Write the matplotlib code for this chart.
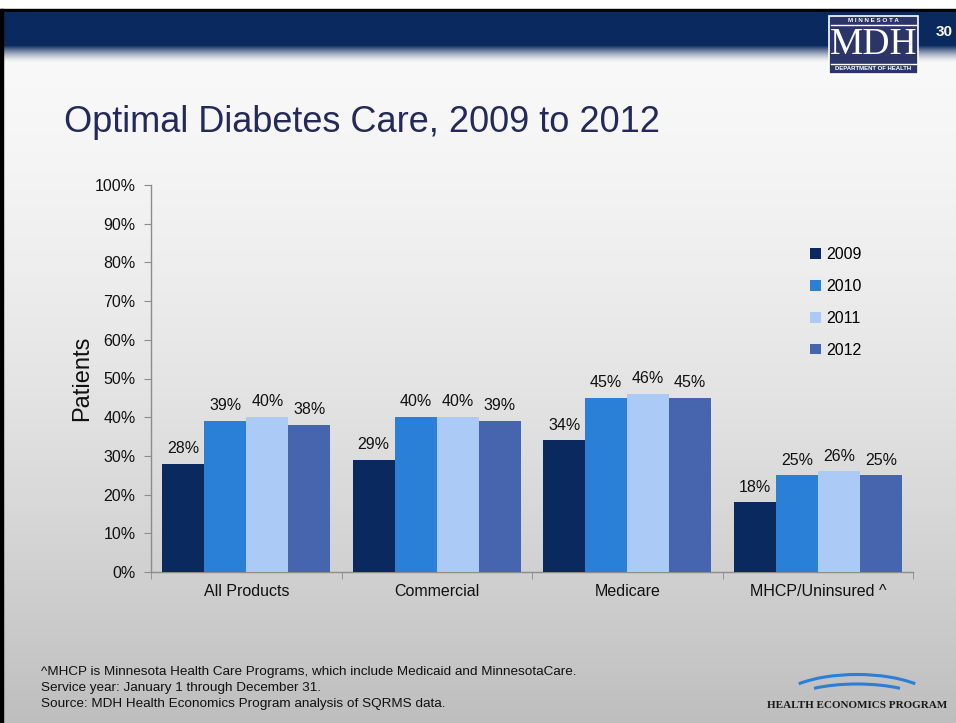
import matplotlib
matplotlib.use("Agg")
import matplotlib.pyplot as plt
import numpy as np
from matplotlib.patches import Rectangle, Arc, Patch

plt.rcParams['font.family'] = ['Liberation Sans', 'DejaVu Sans']

# =========================
# Dados
# =========================
categories = ["All Products", "Commercial", "Medicare", "MHCP/Uninsured ^"]
years = ["2009", "2010", "2011", "2012"]
v2009 = [28, 29, 34, 18]
v2010 = [39, 40, 45, 25]
v2011 = [40, 40, 46, 26]
v2012 = [38, 39, 45, 25]
yticks = list(range(0, 101, 10))

series = [v2009, v2010, v2011, v2012]
colors = ["#0a2a5f", "#2a7fd7", "#abcaf6", "#4765ae"]

W, H = 956, 723
fig = plt.figure(figsize=(W / 100, H / 100), dpi=100)

# =========================
# Fundo do slide
# =========================
bg = fig.add_axes([0, 0, 1, 1])
bg.set_xlim(0, W)
bg.set_ylim(H, 0)
bg.axis("off")

rows = np.linspace(0, 1, H)
shade = 250 - 60 * rows ** 1.6
grad = np.repeat(shade[:, None], 4, axis=1) / 255.0
bg.imshow(np.dstack([grad, grad, grad]), extent=(0, W, H, 0), aspect="auto", zorder=0)

# faixa do topo
bg.add_patch(Rectangle((0, 0), W, 9, color="white", zorder=1))
bg.add_patch(Rectangle((0, 9), W, 3, color="black", zorder=2))
bg.add_patch(Rectangle((0, 12), W, 34, color="#0a2a5f", zorder=2))
navy = np.array([10, 42, 95]) / 255.0
fade_h = 16
for k in range(fade_h):
    t = (k + 1) / (fade_h + 1)
    c = navy * (1 - t) ** 1.5 + np.array([0.97, 0.97, 0.97]) * (1 - (1 - t) ** 1.5)
    bg.add_patch(Rectangle((0, 46 + k), W, 1.05, color=c, zorder=2, lw=0))
bg.add_patch(Rectangle((0, 9), 3, H - 9, color="black", zorder=3))

# logo MDH
bg.add_patch(Rectangle((829, 16), 89, 58, facecolor="#2c3568", edgecolor="white", lw=1.2, zorder=4))
bg.plot([831, 916], [25, 25], color="white", lw=1, zorder=5)
bg.plot([831, 916], [64, 64], color="white", lw=1, zorder=5)
bg.text(873.5, 20.5, "M I N N E S O T A", color="white", fontsize=4.5, fontweight="bold",
        ha="center", va="center", zorder=6)
bg.text(873.5, 45, "MDH", color="white", fontsize=27, family="Liberation Serif",
        ha="center", va="center", zorder=6)
bg.text(873.5, 69, "DEPARTMENT OF HEALTH", color="white", fontsize=4.3, fontweight="bold",
        ha="center", va="center", zorder=6)
bg.text(936, 32, "30", color="white", fontsize=11, fontweight="bold",
        ha="left", va="center", zorder=6)

# logo Health Economics Program (eixo y invertido -> arcos com theta 200..340)
for (w_, h_, y_) in [(162, 61, 705), (138, 40, 704)]:
    bg.add_patch(Arc((857, y_), w_, h_, theta1=200, theta2=340, color="#2a7fd7", lw=2.2, zorder=4))
bg.text(857, 705, "HEALTH ECONOMICS PROGRAM", family="Liberation Serif", fontsize=8,
        fontweight="bold", color="#1a1a1a", ha="center", va="center", zorder=5)

# titulo
fig.text(64 / W, 1 - 122 / H, "Optimal Diabetes Care, 2009 to 2012",
         fontsize=26, color="#23295a", ha="left", va="center")

# notas de rodape
notes = ["^MHCP is Minnesota Health Care Programs, which include Medicaid and MinnesotaCare.",
         "Service year: January 1 through December 31.",
         "Source: MDH Health Economics Program analysis of SQRMS data."]
for i, line in enumerate(notes):
    fig.text(41 / W, 1 - (672 + 16 * i) / H, line, fontsize=9.7, color="#111111",
             ha="left", va="center")

# =========================
# Grafico de barras
# =========================
ax = fig.add_axes([151 / W, (H - 572) / H, (913 - 151) / W, (572 - 185) / H])
ax.set_facecolor("none")
ax.set_xlim(-0.5, len(categories) - 0.5)
ax.set_ylim(0, 100)

bw = 42 / 190.5
x = np.arange(len(categories))
for j, (vals, col, yr) in enumerate(zip(series, colors, years)):
    pos = x + (j - 1.5) * bw
    ax.bar(pos, vals, width=bw, color=col, label=yr, zorder=3)
    for px, v in zip(pos, vals):
        ax.text(px, v + 2.0, f"{v}%", ha="center", va="bottom", fontsize=11.5, color="#111111")

for s in ["top", "right"]:
    ax.spines[s].set_visible(False)
for s in ["left", "bottom"]:
    ax.spines[s].set_color("#8c8c8c")
    ax.spines[s].set_linewidth(1)

ax.set_yticks(yticks)
ax.set_yticklabels([f"{t}%" for t in yticks], fontsize=11.5, color="#111111")
ax.tick_params(axis="y", length=5, color="#8c8c8c", pad=6)
ax.set_xticks(x)
ax.set_xticklabels(categories, fontsize=11.5, color="#111111")
ax.tick_params(axis="x", length=0, pad=9)
ax.set_xticks(np.arange(-0.5, len(categories)), minor=True)
ax.tick_params(axis="x", which="minor", length=5, color="#8c8c8c")

ax.set_ylabel("Patients", fontsize=17, color="#111111", labelpad=1)

handles = [Patch(facecolor=c) for c in colors]
fig.legend(handles, years, loc="upper left", bbox_to_anchor=(804 / W, 1 - 241 / H),
           frameon=False, fontsize=11.5, handlelength=0.65, handleheight=0.65,
           handletextpad=0.35, labelspacing=1.05, borderaxespad=0)

fig.savefig("out.png", dpi=100)
